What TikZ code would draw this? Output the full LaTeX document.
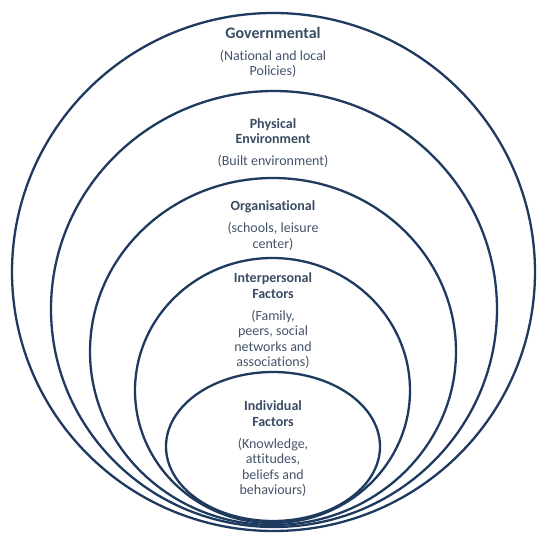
\documentclass[tikz,border=0pt]{standalone}
\usepackage{fontspec}
\setmainfont[Ligatures={NoCommon}]{Carlito}
\usetikzlibrary{shapes.geometric}
\definecolor{ringcol}{HTML}{1F3A5F}
\definecolor{txtcol}{HTML}{44546A}
\definecolor{titlecol}{HTML}{3A4C63}
\tikzset{
  ring/.style={draw=ringcol, line width=2.3pt, ellipse, inner sep=0pt, fill=none},
  ttl/.style={text=titlecol, align=center, inner sep=0pt, font={\bfseries\fontsize{14}{15.5}\selectfont}},
  bigttl/.style={ttl, font={\bfseries\fontsize{16}{18}\selectfont}},
  body/.style={text=txtcol, align=center, inner sep=0pt, font={\fontsize{14}{15.5}\selectfont}}
}
\begin{document}
\begin{tikzpicture}[x=1pt,y=-1pt]
\useasboundingbox[fill=white] (0,0) rectangle (547,550);
\node[ring, minimum width=523pt, minimum height=518pt] (gov) at (273.5,272) {};
\node[ring, minimum width=446pt, minimum height=436pt] (phy) at (274,309) {};
\node[ring, minimum width=366pt, minimum height=347pt] (org) at (273,351.5) {};
\node[ring, minimum width=275pt, minimum height=265pt] (int) at (272.5,390.5) {};
\node[ring, minimum width=214pt, minimum height=149pt] (ind) at (273,446.5) {};
\node[bigttl] (govt) at (273,33) {Governmental};
\node[body] (govb) at (273,64) {(National and local\\Policies)};
\node[ttl] (phyt) at (273,131) {Physical\\Environment};
\node[body] (phyb) at (273,161) {(Built environment)};
\node[ttl] (orgt) at (273,207) {Organisational};
\node[body] (orgb) at (273,236.5) {(schools, leisure\\center)};
\node[ttl] (intt) at (273,285.5) {Interpersonal\\Factors};
\node[body] (intb) at (273,339.5) {(Family,\\peers, social\\networks and\\associations)};
\node[ttl] (indt) at (273,413.5) {Individual\\Factors};
\node[body] (indb) at (273,467.5) {(Knowledge,\\attitudes,\\beliefs and\\behaviours)};
\end{tikzpicture}
\end{document}
